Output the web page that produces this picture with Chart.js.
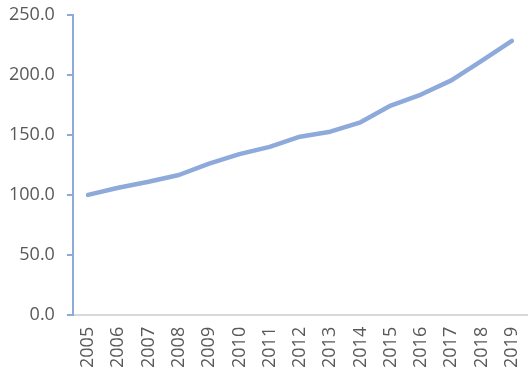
<!DOCTYPE html>
<html>
<head>
<meta charset="utf-8">
<script src="https://cdn.jsdelivr.net/npm/chart.js@4"></script>
<style>
  html, body { margin: 0; padding: 0; background: #fff; }
  #wrap { width: 529px; height: 370px; }
</style>
</head>
<body>
<div id="wrap"><canvas id="chartOne"></canvas></div>
<script>
const years = ['2005', '2006', '2007', '2008', '2009', '2010', '2011', '2012', '2013', '2014', '2015', '2016', '2017', '2018', '2019'];
const indexValues = [100, 106, 111, 116.6, 126, 134, 140, 148.5, 152.7, 160.5, 174.5, 183.7, 195.5, 211.7, 228.4];
const yTicks = [0, 50, 100, 150, 200, 250];

const lineBlue = '#8eaadb';
const textGrey = '#595959';

const chart1 = document.getElementById('chartOne');

new Chart(chart1, {
  type: 'line',
  data: {
    labels: years,
    datasets: [{
      label: 'Index',
      data: indexValues,
      borderColor: lineBlue,
      borderWidth: 4.5,
      pointRadius: 0,
      tension: 0,
      borderCapStyle: 'round',
      borderJoinStyle: 'round',
      fill: false
    }]
  },
  options: {
    responsive: true,
    maintainAspectRatio: false,
    animation: false,
    layout: {
      padding: { top: 15, right: 2, left: -3, bottom: -10 }
    },
    plugins: {
      legend: { display: false },
      tooltip: { enabled: false }
    },
    scales: {
      x: {
        offset: true,
        afterFit: function (scale) {
          scale.paddingLeft = 0;
          scale.paddingRight = 0;
        },
        grid: { display: false, drawTicks: false },
        border: { color: '#d9d9d9', width: 2 },
        ticks: {
          color: textGrey,
          font: { family: 'Open Sans', size: 18 },
          minRotation: 90,
          maxRotation: 90,
          padding: 12
        }
      },
      y: {
        min: yTicks[0],
        max: yTicks[yTicks.length - 1],
        afterBuildTicks: function (axis) {
          axis.ticks = yTicks.map(function (v) { return { value: v }; });
        },
        afterFit: function (scale) {
          scale.paddingTop = 0;
          scale.paddingBottom = 0;
        },
        grid: {
          drawOnChartArea: false,
          drawTicks: true,
          tickLength: 6,
          color: lineBlue,
          lineWidth: 2
        },
        border: { color: lineBlue, width: 2 },
        ticks: {
          color: textGrey,
          font: { family: 'Open Sans', size: 18 },
          padding: 12,
          callback: function (v) { return Number(v).toFixed(1); }
        }
      }
    }
  }
});
</script>
</body>
</html>
